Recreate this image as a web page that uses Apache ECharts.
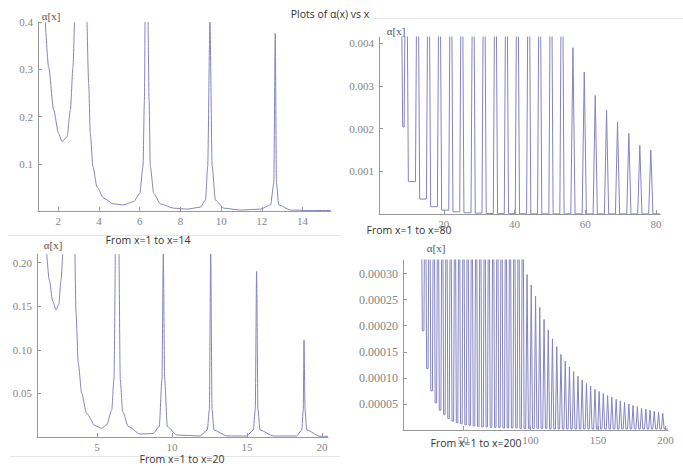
<!DOCTYPE html>
<html>
<head>
<meta charset="utf-8">
<script src="https://cdn.jsdelivr.net/npm/echarts@6/dist/echarts.min.js"></script>
<style>
  html, body { margin: 0; padding: 0; background: #fff; }
  #chart { width: 683px; height: 466px; }
</style>
</head>
<body>
<div id="chart"></div>
<script>
// off-scale value (curve runs out of the top of the plot range)
const OFF = Infinity;

// panel A: x = 1..14 (null y = break in the curve)
const aX = [1.36, 1.52, 1.77, 2.01, 2.18, 2.43, 2.59, 2.72, 2.79, 3.1,
  3.41, 3.49, 3.57, 3.70, 3.90, 4.23, 4.72, 5.21, 5.70, 6.00, 6.16, 6.23, 6.26, 6.33,
  6.41, 6.46, 6.52, 6.69, 7.02, 7.67, 8.33, 8.98, 9.23, 9.34, 9.45, 9.56, 9.72, 10.13,
  10.95, 11.94, 12.43, 12.59, 12.66, 12.72, 12.83, 13.41, 14.39, 15.38];
const aY = [0.4, 0.305, 0.214, 0.164, 0.147, 0.157, 0.214, 0.305, 0.4, null,
  0.4, 0.270, 0.164, 0.094, 0.051, 0.027, 0.015, 0.013, 0.020, 0.037, 0.094, 0.235, 0.4, null,
  0.4, 0.235, 0.094, 0.037, 0.015, 0.006, 0.004, 0.008, 0.023, 0.094, 0.4, 0.094, 0.023, 0.006,
  0.002, 0.004, 0.013, 0.059, 0.376, 0.059, 0.013, 0.002, 0.001, 0.001];

// panel C: x = 1..20
const cX = [1.65, 1.82, 2.05, 2.27, 2.45, 2.60, 2.71, 3.1,
  3.53, 3.60, 3.75, 3.98, 4.31, 4.87, 5.31, 5.65, 5.98, 6.13, 6.22, 6.35,
  6.47, 6.55, 6.71, 7.09, 7.87, 8.75, 9.15, 9.33, 9.42, 9.51, 9.69, 10.31, 11.87, 12.35,
  12.49, 12.58, 12.67, 12.80, 13.65, 14.98, 15.42, 15.55, 15.64, 15.73, 15.87, 16.75,
  18.31, 18.65, 18.75, 18.80, 18.87, 18.98, 19.87, 20.4];
const cY = [0.21, 0.180, 0.156, 0.146, 0.152, 0.180, 0.21, null,
  0.21, 0.142, 0.085, 0.050, 0.027, 0.013, 0.010, 0.014, 0.031, 0.066, 0.21, null,
  0.21, 0.066, 0.029, 0.012, 0.0034, 0.004, 0.012, 0.066, 0.21, 0.066, 0.012, 0.0023, 0.0012, 0.008,
  0.031, 0.21, 0.031, 0.008, 0.0012, 0.0012, 0.008, 0.031, 0.190, 0.031, 0.008, 0.0012,
  0.0012, 0.008, 0.031, 0.111, 0.031, 0.008, 0.0008, 0.0008];

// panel B: x = 1..80, resonance peaks and the minima between them
const bLeadX = [7.7, 8.4];
const bLeadY = [OFF, 0.00204];
const bPeakX = [9.4, 12.6, 15.7, 18.8, 22.0, 25.1, 28.3, 31.4, 34.6, 37.7, 40.8, 44.0,
  47.1, 50.3, 53.4, 56.5, 59.7, 62.8, 66.0, 69.1, 72.3, 75.4, 78.5];
const bPeakY = [OFF, OFF, OFF, OFF, OFF, OFF, OFF, OFF, OFF, OFF, OFF, OFF, OFF, OFF, OFF,
  0.0039, 0.00333, 0.00278, 0.00243, 0.00216, 0.00189, 0.00161, 0.0015];
const bTrough = [0.00204, 0.00076, 0.00035, 0.00017, 0.00009, 0.00005, 0.00003, 0.00002,
  0.000012, 0.000008, 0.000006, 0.000005, 0.000004, 0.000004, 0.000003, 0.000003, 0.000003,
  0.000002, 0.000002, 0.000002, 0.000002, 0.000002, 0.000002, 0.000002];

// panel D: x = 1..200
const dPeakX = [18.8, 22.0, 25.1, 28.3, 31.4, 34.6, 37.7, 40.8, 44.0, 47.1, 50.3, 53.4,
  56.5, 59.7, 62.8, 66.0, 69.1, 72.3, 75.4, 78.5, 81.7, 84.8, 88.0, 91.1, 94.2,
  97.4, 100.5, 103.7, 106.8, 110.0, 113.1, 116.2, 119.4, 122.5, 125.7, 128.8, 131.9,
  135.1, 138.2, 141.4, 144.5, 147.7, 150.8, 153.9, 157.1, 160.2, 163.4, 166.5, 169.6,
  172.8, 175.9, 179.1, 182.2, 185.4, 188.5, 191.6, 194.8, 197.9];
const dPeakY = [OFF, OFF, OFF, OFF, OFF, OFF, OFF, OFF, OFF, OFF, OFF, OFF, OFF,
  OFF, OFF, OFF, OFF, OFF, OFF, OFF, OFF, OFF, OFF, OFF, OFF,
  0.000298, 0.000278, 0.000257, 0.000235, 0.000212, 0.000192, 0.000175, 0.00016,
  0.000145, 0.000132, 0.000121, 0.000112, 0.000103, 0.000096, 0.000089, 0.000084,
  0.000078, 0.000074, 0.00007, 0.000066, 0.000063, 0.000059, 0.000056, 0.000053,
  0.00005, 0.000047, 0.000045, 0.000042, 0.00004, 0.000038, 0.000036, 0.000034, 0.000032];
const dTrough = [OFF, 0.00019, 0.000118, 0.000075, 0.000052, 0.000038, 0.00003, 0.000022,
  0.000017, 0.000014, 0.000012, 0.00001, 0.000009, 0.000008, 0.000007, 0.000006, 0.000006,
  0.000005, 0.000005, 0.000005, 0.000004, 0.000004, 0.000004, 0.000004, 0.000003, 0.000003,
  0.000003, 0.000003, 0.000003, 0.000003, 0.000003,
  0.000002, 0.000002, 0.000002, 0.000002, 0.000002, 0.000002, 0.000002, 0.000002,
  0.000002, 0.000002, 0.000002, 0.000002, 0.000002, 0.000002, 0.000002, 0.000002,
  0.000002, 0.000002, 0.000002, 0.000002, 0.000002, 0.000002, 0.000002, 0.000002,
  0.000002, 0.000002, 0.000002, 0.000002];

// tick values
const aXTicks = [2, 4, 6, 8, 10, 12, 14];
const aYTicks = [0.1, 0.2, 0.3, 0.4];
const bXTicks = [20, 40, 60, 80];
const bYTicks = [0.001, 0.002, 0.003, 0.004];
const cXTicks = [5, 10, 15, 20];
const cYTicks = [0.05, 0.10, 0.15, 0.20];
const dXTicks = [50, 100, 150, 200];
const dYTicks = [0.00005, 0.0001, 0.00015, 0.0002, 0.00025, 0.0003];

const LINE = '#8484c2';
const AXIS = '#9a9a9a';

const zip = (xs, ys) => xs.map((x, i) => ys[i] === null ? [x, '-'] : [x, ys[i]]);

// narrow spike per peak, flat between at the trough level
const spikes = (peakX, peakY, trough, w, yMax, xEnd, lead) => {
  const v = y => y === OFF ? yMax * 2 : y;
  const pts = lead ? lead.map(p => [p[0], v(p[1])]) : [];
  peakX.forEach((x, i) => {
    pts.push([x - w, v(trough[i])], [x, v(peakY[i])], [x + w, v(trough[i + 1])]);
  });
  pts.push([xEnd, v(trough[trough.length - 1])]);
  return pts;
};

const xAx = (grid, min, max, ticks) => ({
  type: 'value', gridIndex: grid, min: min, max: max,
  axisLine: {lineStyle: {color: AXIS, width: 1}},
  axisTick: {inside: true, length: 4, customValues: ticks, lineStyle: {color: AXIS}},
  axisLabel: {customValues: ticks, margin: 4, color: '#858585', fontFamily: 'Liberation Serif', fontSize: 11},
  splitLine: {show: false},
});

const yAx = (grid, max, ticks, digits, size) => ({
  type: 'value', gridIndex: grid, min: 0, max: max,
  axisLine: {show: true, lineStyle: {color: AXIS, width: 1}},
  axisTick: {show: true, inside: true, length: 4, customValues: ticks, lineStyle: {color: AXIS}},
  axisLabel: {customValues: ticks, margin: 5, color: '#858585', fontFamily: 'Liberation Serif', fontSize: size,
    formatter: val => val.toFixed(digits)},
  splitLine: {show: false},
});

const yMaxB = 0.00415, yMaxD = 0.000326;
const xMaxB = 81.1, xMaxD = 201.8;

const series = [
  {data: zip(aX, aY), xAxisIndex: 0, yAxisIndex: 0, smooth: 0.25, smoothMonotone: 'x'},
  {data: spikes(bPeakX, bPeakY, bTrough, 0.6, yMaxB, xMaxB, zip(bLeadX, bLeadY)), xAxisIndex: 1, yAxisIndex: 1},
  {data: zip(cX, cY), xAxisIndex: 2, yAxisIndex: 2, smooth: 0.25, smoothMonotone: 'x'},
  {data: spikes(dPeakX, dPeakY, dTrough, 1.0, yMaxD, xMaxD), xAxisIndex: 3, yAxisIndex: 3},
].map(s => Object.assign({
  type: 'line', showSymbol: false, connectNulls: false, clip: true, silent: true,
  lineStyle: {color: LINE, width: 1},
}, s));

const txt = (text, x, y, font, fill) => ({
  type: 'text', x: x, y: y, silent: true,
  style: {text: text, font: font, fill: fill, textAlign: 'center', textVerticalAlign: 'middle'},
});
const sep = (x1, y, x2) => ({
  type: 'line', silent: true, shape: {x1: x1, y1: y, x2: x2, y2: y},
  style: {stroke: '#e6e6e6', lineWidth: 1},
});

const CAP = '10.5px "Open Sans"';
const ALPHA = '11px "Liberation Serif"';

const chart = echarts.init(document.getElementById('chart'), null, {renderer: 'svg'});
chart.setOption({
  animation: false,
  backgroundColor: '#fff',
  grid: [
    {left: 38, top: 22, width: 293, height: 189},
    {left: 379, top: 37, width: 281, height: 177},
    {left: 37, top: 254, width: 291, height: 183},
    {left: 403, top: 260, width: 265, height: 170},
  ],
  xAxis: [
    xAx(0, 1, 15.4, aXTicks),
    xAx(1, 1.7, xMaxB, bXTicks),
    xAx(2, 1, 20.4, cXTicks),
    xAx(3, 5.5, xMaxD, dXTicks),
  ],
  yAxis: [
    yAx(0, 0.4, aYTicks, 1, 11),
    yAx(1, yMaxB, bYTicks, 3, 11),
    yAx(2, 0.21, cYTicks, 2, 11),
    yAx(3, yMaxD, dYTicks, 5, 12),
  ],
  series: series,
  graphic: [
    sep(373, 18.5, 683),
    sep(8, 235.5, 340),
    sep(10, 456.5, 340),
    txt('Plots of α(x) vs x', 330, 14, CAP, '#333'),
    txt('From x=1 to x=14', 148, 240, CAP, '#333'),
    txt('From x=1 to x=80', 409, 230, CAP, '#333'),
    txt('From x=1 to x=20', 182, 459, CAP, '#333'),
    txt('From x=1 to x=200', 476, 443, CAP, '#333'),
    txt('α[x]', 51, 16, ALPHA, '#555'),
    txt('α[x]', 396, 31, ALPHA, '#555'),
    txt('α[x]', 53, 245, ALPHA, '#555'),
    txt('α[x]', 436, 248, ALPHA, '#555'),
  ],
});
</script>
</body>
</html>
